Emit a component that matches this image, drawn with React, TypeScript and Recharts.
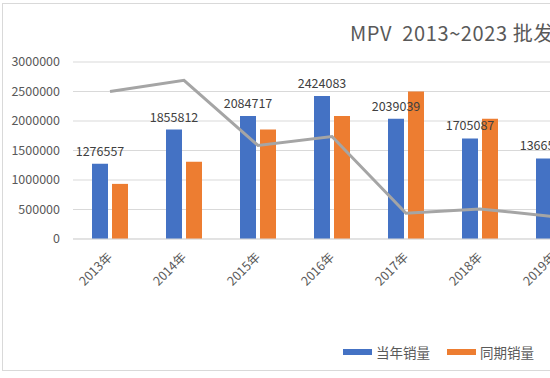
import React from 'react';
import {
  ComposedChart,
  Bar,
  Line,
  XAxis,
  YAxis,
  CartesianGrid,
  LabelList
} from 'recharts';

// 年份（图中只露出 2013~2019 部分）
const years = ['2013年', '2014年', '2015年', '2016年', '2017年', '2018年', '2019年'];
// 当年销量
const currentSales = [1276557, 1855812, 2084717, 2424083, 2039039, 1705087, 1366520];
// 同期销量
const priorSales = [934000, 1310000, 1855812, 2084717, 2500000, 2039039, 1705087];
// 同比增速（次坐标轴，未显示刻度）
const growthRate = [0.367, 0.417, 0.123, 0.163, -0.184, -0.164, -0.199];
const yTicks = [0, 500000, 1000000, 1500000, 2000000, 2500000, 3000000];

const FONT = '"Noto Sans CJK SC", "Noto Sans", sans-serif';
const BLUE = '#4472c4';
const ORANGE = '#ed7d31';
const GRAY_LINE = '#a5a5a5';
const TEXT = '#595959';

const data = years.map((year, i) => ({
  year,
  current: currentSales[i],
  prior: priorSales[i],
  growth: growthRate[i]
}));

// 斜 45° 的年份标签
const YearTick = (props: any) => {
  const { x, y, payload } = props;
  const ax = x + 3;
  const ay = y + 11;
  return (
    <text
      x={ax}
      y={ay}
      transform={`rotate(-45 ${ax} ${ay})`}
      textAnchor="end"
      fill={TEXT}
      fontSize={12.5}
      fontFamily={FONT}
    >
      {payload.value}
    </text>
  );
};

const LegendItem = ({ color, label }: { color: string; label: string }) => (
  <div style={{ display: 'flex', alignItems: 'center', flexShrink: 0, whiteSpace: 'nowrap', marginRight: 17 }}>
    <div style={{ width: 29, height: 6, background: color, marginRight: 4, flexShrink: 0 }} />
    <span style={{ fontSize: 13.5, color: TEXT, fontFamily: FONT, lineHeight: '18px' }}>{label}</span>
  </div>
);

export default function App() {
  return (
    <div
      style={{
        position: 'absolute',
        left: 0,
        top: 0,
        width: 550,
        height: 378,
        overflow: 'hidden',
        background: '#fff'
      }}
    >
      {/* 图表区边框 */}
      <div
        style={{
          position: 'absolute',
          left: 2,
          top: 3,
          width: 600,
          height: 368,
          border: '1px solid #d9d9d9',
          boxSizing: 'border-box'
        }}
      />

      <div
        style={{
          position: 'absolute',
          left: 350,
          top: 23,
          fontSize: 20,
          lineHeight: '20px',
          letterSpacing: 0.6,
          color: TEXT,
          fontFamily: FONT,
          whiteSpace: 'pre'
        }}
      >
        {'MPV  2013~2023 批发销量'}
      </div>

      <div style={{ position: 'absolute', left: 0, top: 0 }}>
        <ComposedChart
          width={620}
          height={378}
          data={data}
          margin={{ top: 62, right: 29, left: 10, bottom: 79 }}
          barSize={16}
          barGap={4}
        >
          <CartesianGrid yAxisId="left" vertical={false} stroke="#d9d9d9" strokeWidth={1} />
          <XAxis
            dataKey="year"
            height={60}
            tickLine={false}
            axisLine={{ stroke: '#d9d9d9' }}
            tick={<YearTick />}
            interval={0}
          />
          <YAxis
            yAxisId="left"
            width={63}
            domain={[0, 3000000]}
            ticks={yTicks}
            tickLine={false}
            axisLine={false}
            tickMargin={7}
            tick={{ fill: TEXT, fontSize: 12.5, fontFamily: FONT }}
          />
          <YAxis yAxisId="right" orientation="right" hide domain={[-0.3, 0.5]} />

          <Bar yAxisId="left" dataKey="current" name="当年销量" fill={BLUE} isAnimationActive={false}>
            <LabelList
              dataKey="current"
              position="top"
              offset={8}
              fill="#404040"
              fontSize={12.5}
              fontFamily={FONT}
            />
          </Bar>
          <Bar yAxisId="left" dataKey="prior" name="同期销量" fill={ORANGE} isAnimationActive={false} />
          <Line
            yAxisId="right"
            type="linear"
            dataKey="growth"
            stroke={GRAY_LINE}
            strokeWidth={3}
            dot={false}
            isAnimationActive={false}
          />
        </ComposedChart>
      </div>

      {/* 图例 */}
      <div style={{ position: 'absolute', left: 343, top: 343, display: 'flex', width: 260 }}>
        <LegendItem color={BLUE} label="当年销量" />
        <LegendItem color={ORANGE} label="同期销量" />
      </div>
    </div>
  );
}
